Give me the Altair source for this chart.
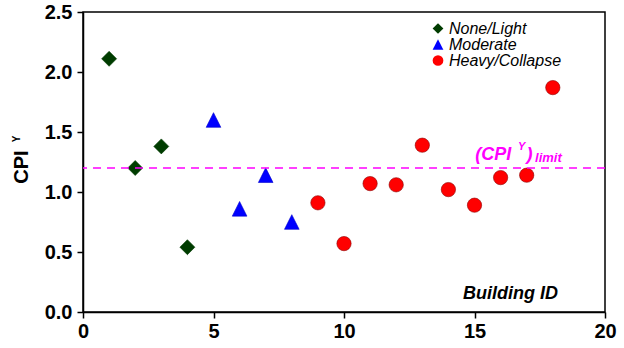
import altair as alt
import pandas as pd

# Building IDs and CPI^Y values, grouped by observed damage state
light_ids = [1, 2, 3, 4]
light_cpi = [2.11, 1.20, 1.38, 0.54]
moderate_ids = [5, 6, 7, 8]
moderate_cpi = [1.60, 0.86, 1.14, 0.75]
heavy_ids = [9, 10, 11, 12, 13, 14, 15, 16, 17, 18]
heavy_cpi = [0.91, 0.57, 1.07, 1.06, 1.39, 1.02, 0.89, 1.12, 1.14, 1.87]

damage_states = ["None/Light", "Moderate", "Heavy/Collapse"]
state_colors = ["#003c00", "#0000ff", "#ff0000"]
state_edges = ["#003c00", "#0000cc", "#8b0000"]
# triangle drawn as a custom path so it is as tall as it is wide
state_shapes = ["diamond", "M0,-1L1,1L-1,1Z", "circle"]
state_sizes = [225, 205, 210]

cpi_limit = 1.2
x_ticks = [0, 5, 10, 15, 20]
y_ticks = [0.0, 0.5, 1.0, 1.5, 2.0, 2.5]

rows = []
for state, ids, vals in [
    ("None/Light", light_ids, light_cpi),
    ("Moderate", moderate_ids, moderate_cpi),
    ("Heavy/Collapse", heavy_ids, heavy_cpi),
]:
    for i, v in zip(ids, vals):
        rows.append({"id": i, "cpi": v, "state": state})
df = pd.DataFrame(rows)

FONT = "Liberation Sans"

x_scale = alt.Scale(domain=[0, 20], nice=False, zero=False)
y_scale = alt.Scale(domain=[0, 2.5], nice=False)

x_enc = alt.X(
    "id:Q", scale=x_scale, title=None,
    axis=alt.Axis(values=x_ticks, format="d", grid=False, tickSize=6,
                  labelPadding=3, labelFontSize=20, labelFontWeight="bold",
                  labelFont=FONT, labelColor="black", domainColor="black",
                  tickColor="black", domainWidth=1.5, tickWidth=1.5,
                  labelFlush=False),
)
y_enc = alt.Y(
    "cpi:Q", scale=y_scale, title="CPI",
    axis=alt.Axis(values=y_ticks, format=".1f", grid=False, tickSize=6,
                  labelPadding=5, labelFontSize=20, labelFontWeight="bold",
                  labelFont=FONT, labelColor="black", domainColor="black",
                  tickColor="black", domainWidth=1.5, tickWidth=1.5,
                  titleFont=FONT, titleFontSize=20, titleFontWeight="bold",
                  titleColor="black", titleAngle=270, titleAlign="center",
                  titleBaseline="alphabetic", titleX=-56, titleY=154.5),
)

points = alt.Chart(df).mark_point(filled=True, opacity=1, strokeWidth=0.6).encode(
    x=x_enc,
    y=y_enc,
    color=alt.Color(
        "state:N",
        scale=alt.Scale(domain=damage_states, range=state_colors),
        legend=alt.Legend(
            title=None, orient="none", legendX=347, legendY=8.5, padding=0,
            symbolSize=115, symbolStrokeWidth=0, labelFont=FONT,
            labelFontSize=16, labelFontStyle="italic", labelColor="black",
            labelOffset=3, rowPadding=0, symbolOpacity=1,
        ),
    ),
    shape=alt.Shape("state:N", scale=alt.Scale(domain=damage_states, range=state_shapes)),
    size=alt.Size("state:N", scale=alt.Scale(domain=damage_states, range=state_sizes), legend=None),
    stroke=alt.Stroke("state:N", scale=alt.Scale(domain=damage_states, range=state_edges),
                      legend=None),
)

limit_df = pd.DataFrame({"cpi": [cpi_limit]})
limit_line = alt.Chart(limit_df).mark_rule(
    color="#ff00ff", strokeWidth=1.5, strokeDash=[8, 6]
).encode(y=alt.Y("cpi:Q", scale=y_scale))

# "(CPI^Y)_limit" label pieces
label_df = pd.DataFrame({
    "x": [15.03, 16.67, 16.99, 17.32],
    "y": [1.267, 1.35, 1.267, 1.25],
    "t": ["(CPI", "Y", ")", "limit"],
    "s": [18, 11, 18, 13],
})
limit_label = alt.Chart(label_df).mark_text(
    align="left", baseline="alphabetic", font=FONT, fontWeight="bold",
    fontStyle="italic", color="#ff00ff"
).encode(
    x=alt.X("x:Q", scale=x_scale),
    y=alt.Y("y:Q", scale=y_scale),
    text="t:N",
    size=alt.Size("s:Q", scale=None),
)

xlabel_df = pd.DataFrame({"x": [18.2], "y": [0.108], "t": ["Building ID"]})
x_label = alt.Chart(xlabel_df).mark_text(
    align="right", baseline="alphabetic", font=FONT, fontWeight="bold",
    fontStyle="italic", fontSize=18, color="black"
).encode(
    x=alt.X("x:Q", scale=x_scale),
    y=alt.Y("y:Q", scale=y_scale),
    text="t:N",
)

# superscript Y of the y-axis title
sup_y = alt.Chart(pd.DataFrame({"t": ["Y"]})).mark_text(
    align="center", baseline="alphabetic", angle=270, font=FONT,
    fontWeight="bold", fontSize=10, color="black"
).encode(x=alt.value(-63), y=alt.value(127), text="t:N")

chart = alt.layer(points, limit_line, limit_label, x_label, sup_y).resolve_scale(
    size="independent"
).properties(
    width=522, height=300,
    padding={"left": 83, "top": 12, "right": 19, "bottom": 36},
    autosize=alt.AutoSizeParams(type="none"),
    background="white",
).configure_view(stroke="black", strokeWidth=1.5)

chart.save("out.html", embed_options={"renderer": "svg", "actions": False})
